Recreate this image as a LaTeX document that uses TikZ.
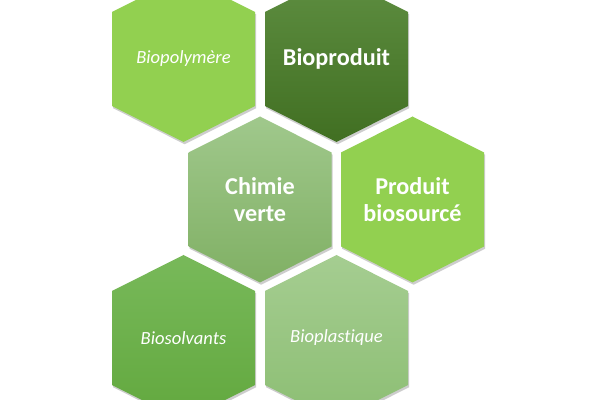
\documentclass[tikz,border=0pt]{standalone}
\usepackage{fontspec}
\setmainfont[Ligatures={NoCommon,NoContextual},Contextuals=NoAlternate]{Carlito}
\usetikzlibrary{shadows}
\definecolor{lightg}{HTML}{92D050}
\definecolor{darktop}{HTML}{5E8E41}
\definecolor{darkbot}{HTML}{416F22}
\definecolor{chtop}{HTML}{A0C88C}
\definecolor{chbot}{HTML}{80B064}
\definecolor{bstop}{HTML}{78B95A}
\definecolor{bsbot}{HTML}{62A83E}
\definecolor{bptop}{HTML}{A5CD91}
\definecolor{bpbot}{HTML}{8CBE73}
\def\hw{71.5}
\def\hb{47}
\def\hc{83}
\newcommand{\hexcell}[6]{% name, x, y, fill style, text style, text
  \path[hexshadow,#4] (#2,#3-\hc) -- (#2+\hw,#3-\hb) -- (#2+\hw,#3+\hb) -- (#2,#3+\hc)
    -- (#2-\hw,#3+\hb) -- (#2-\hw,#3-\hb) -- cycle;
  \node[#5] (#1) at (#2,#3) {#6};
}
\tikzset{
  hexshadow/.style={drop shadow={shadow xshift=0.8pt,shadow yshift=-1.6pt,opacity=0.28,fill=black!70}},
  flatlight/.style={fill=lightg},
  darkfill/.style={top color=darktop,bottom color=darkbot},
  chfill/.style={top color=chtop,bottom color=chbot},
  bsfill/.style={top color=bstop,bottom color=bsbot},
  bpfill/.style={top color=bptop,bottom color=bpbot},
  boldtxt/.style={text=white,align=center,font=\bfseries\fontsize{17.2}{19.2}\selectfont},
  itatxt/.style={text=white,align=center,font=\itshape\fontsize{13.2}{15}\selectfont}
}
\begin{document}
\begin{tikzpicture}[x=0.025cm,y=-0.025cm]
\useasboundingbox (0,0) rectangle (600,400);
\fill[white] (0,0) rectangle (600,400);
\clip (0,0) rectangle (600,400);
\hexcell{biopoly}{183.5}{59}{flatlight}{itatxt}{Biopolymère}
\hexcell{bioprod}{336.5}{59}{darkfill}{boldtxt}{Bioproduit}
\hexcell{chimie}{260}{199.5}{chfill}{boldtxt}{Chimie\\verte}
\hexcell{produit}{412.5}{199.5}{flatlight}{boldtxt}{Produit\\biosourcé}
\hexcell{biosolv}{183.5}{338}{bsfill}{itatxt}{Biosolvants}
\hexcell{bioplast}{336.5}{338}{bpfill}{itatxt}{Bioplast\kern0pt ique}
\end{tikzpicture}
\end{document}
